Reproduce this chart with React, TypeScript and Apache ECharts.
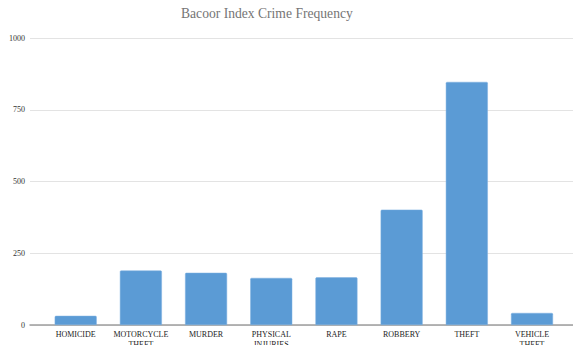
import React, { useEffect, useRef } from "react";
import * as echarts from "echarts";

const categories = [
  "HOMICIDE",
  "MOTORCYCLE\nTHEFT",
  "MURDER",
  "PHYSICAL\nINJURIES",
  "RAPE",
  "ROBBERY",
  "THEFT",
  "VEHICLE\nTHEFT",
];
const frequency = [32, 190, 182, 164, 166, 402, 847, 42];
const yTicks = { min: 0, max: 1000, interval: 250 };

const serif = "'Liberation Serif', 'Times New Roman', serif";

export default function App() {
  const ref = useRef<HTMLDivElement>(null);

  useEffect(() => {
    if (!ref.current) return;
    const chart = echarts.init(ref.current, undefined, { renderer: "svg" });
    chart.setOption({
      animation: false,
      backgroundColor: "#ffffff",
      title: {
        text: "Bacoor Index Crime Frequency",
        left: 181,
        top: 6,
        padding: 0,
        textStyle: {
          fontFamily: serif,
          fontSize: 13.6,
          fontWeight: "normal",
          color: "#757575",
        },
      },
      grid: [
        // frame grid: value axis labels, gridlines and baseline across the full width
        { left: 30, right: 0, top: 38, height: 287, outerBoundsMode: "none" },
        // plotting grid for the bars
        { left: 43.1, width: 521.5, top: 38, height: 287, outerBoundsMode: "none" },
      ],
      xAxis: [
        {
          gridIndex: 0,
          type: "value",
          min: 0,
          max: 1,
          axisLine: { show: true, lineStyle: { color: "#9e9e9e", width: 1.5 } },
          axisTick: { show: false },
          axisLabel: { show: false },
          splitLine: { show: false },
        },
        {
          gridIndex: 1,
          type: "category",
          data: categories,
          axisLine: { show: false },
          axisTick: { show: false },
          axisLabel: {
            interval: 0,
            margin: 5,
            fontFamily: serif,
            fontSize: 8,
            lineHeight: 9.5,
            color: "#222222",
          },
        },
      ],
      yAxis: [
        {
          gridIndex: 0,
          type: "value",
          min: yTicks.min,
          max: yTicks.max,
          interval: yTicks.interval,
          axisLine: { show: false },
          axisTick: { show: false },
          axisLabel: {
            margin: 5,
            fontFamily: serif,
            fontSize: 8,
            color: "#333333",
            formatter: (v: number) => String(v),
          },
          splitLine: { lineStyle: { color: "#e3e3e3", width: 1 } },
        },
        {
          gridIndex: 1,
          type: "value",
          min: yTicks.min,
          max: yTicks.max,
          show: false,
          splitLine: { show: false },
        },
      ],
      series: [
        {
          type: "bar",
          xAxisIndex: 1,
          yAxisIndex: 1,
          data: frequency,
          barWidth: 42,
          itemStyle: {
            color: "#5b9bd5",
            borderColor: "#7fb0e0",
            borderWidth: 0.5,
            borderRadius: [1, 1, 0, 0],
          },
        },
      ],
    });
    return () => chart.dispose();
  }, []);

  return (
    <div
      ref={ref}
      style={{ position: "fixed", left: 0, top: 0, width: 573, height: 345 }}
    />
  );
}
